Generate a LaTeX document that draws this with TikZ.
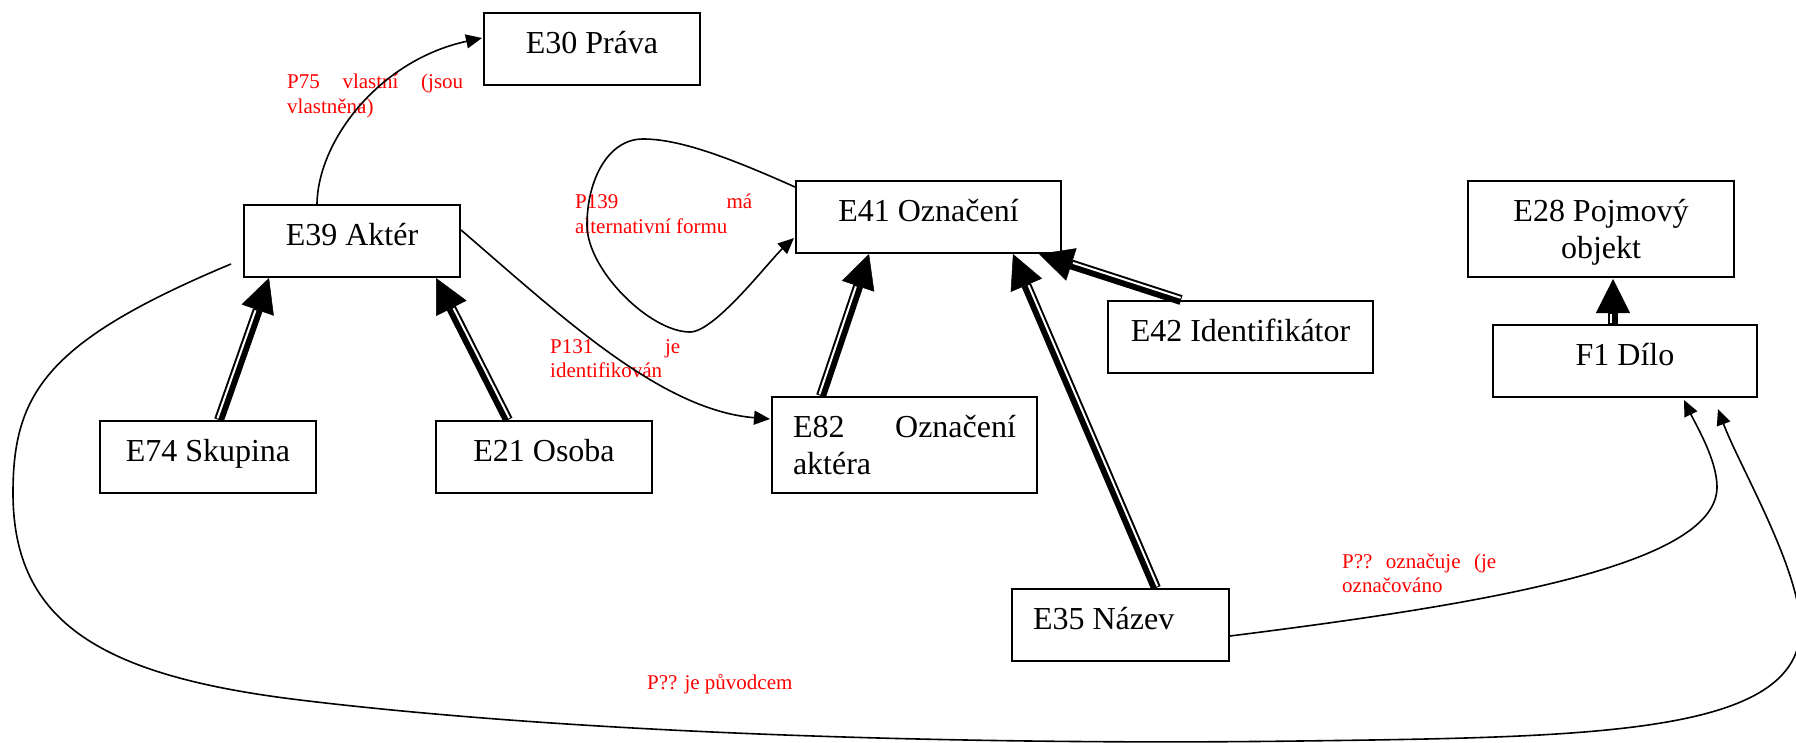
\documentclass[tikz,border=0pt]{standalone}
\usepackage{fontspec}
\setmainfont{Liberation Serif}
\usetikzlibrary{arrows.meta,calc}

% entity text: box width, box height, text (first baseline 40pt below the top)
\newcommand\centredtext[3]{\parbox[c][#2][t]{#1}{\centering\leavevmode\rule{0pt}{40.5pt}#3}}
\newcommand\lefttext[3]{\parbox[c][#2][t]{#1}{\leftskip=21pt\leavevmode\rule{0pt}{40pt}#3}}
% is-a link drawn as a thick/thin compound line: start, tip, side of the thin line
\newcommand\inheritance[4]{%
  \draw[isa] (#1) -- (#2);
  \draw[isagap] ($(#1)!2pt!#3:(#2)$) -- ($(#2)!2pt!#4:(#1)$);}

\tikzset{
  entity/.style={draw, line width=2pt, inner sep=0pt, anchor=north west,
    font=\fontsize{32}{37}\selectfont},
  rel/.style={text=red, inner sep=0pt, anchor=base west,
    font=\fontsize{21}{24.5}\selectfont},
  link/.style={line width=1.6pt, -{Triangle[length=16pt,width=14pt]}},
  isa/.style={line width=10pt, -{Triangle[length=34pt,width=34pt,line width=0.5pt]}},
  isagap/.style={white, line width=2pt, shorten >=35pt, shorten <=1pt},
}

\begin{document}
\begin{tikzpicture}[x=1pt,y=-1pt]
\useasboundingbox (0,0) rectangle (1796,743);

% entities
\node[entity] (E30) at (483,12)   {\centredtext{216pt}{72pt}{E30 Práva}};
\node[entity] (E39) at (243,204)  {\centredtext{216pt}{72pt}{E39 Aktér}};
\node[entity] (E41) at (795,180)  {\centredtext{265pt}{72pt}{E41 Označení}};
\node[entity] (E42) at (1107,300) {\centredtext{265pt}{72pt}{E42 Identifikátor}};
\node[entity] (E28) at (1467,180) {\centredtext{266pt}{96pt}{E28 Pojmový\\objekt}};
\node[entity] (F1)  at (1492,324) {\centredtext{264pt}{72pt}{F1 Dílo}};
\node[entity] (E74) at (99,420)   {\centredtext{216pt}{72pt}{E74 Skupina}};
\node[entity] (E21) at (435,420)  {\centredtext{216pt}{72pt}{E21 Osoba}};
\node[entity] (E82) at (771,396)  {\lefttext{265pt}{96pt}{\hbox to 223pt{E82\hfill Označení}\\aktéra}};
\node[entity] (E35) at (1011,588) {\lefttext{217pt}{72pt}{E35 Název}};

% property labels
\node[rel] (P75) at (287,89)
  {\parbox[t]{176pt}{\hbox to 176pt{P75\hfill vlastní\hfill (jsou}\hbox{vlastněna)}}};
\node[rel] (P139) at (575,209)
  {\parbox[t]{177pt}{\hbox to 177pt{P139\hfill má}\hbox{alternativní formu}}};
\node[rel] (P131) at (550,353)
  {\parbox[t]{130pt}{\hbox to 130pt{P131\hfill je}\hbox{identifikován}}};
\node[rel] (Poz) at (1342,568)
  {\parbox[t]{154pt}{\hbox to 154pt{P??\hfill označuje\hfill (je}\hbox{označováno}}};
\node[rel] (Ppu) at (647,689) {P?? je původcem};

% connector ends
\coordinate (s75)  at ($(E39.north)+(-35,0)$);
\coordinate (t75)  at ($(E30.west)+(-1,-11)$);
\coordinate (s131) at ($(E39.east)+(0,-11)$);
\coordinate (t131) at ($(E82.west)+(-1,-26)$);
\coordinate (s139) at ($(E41.north west)+(0,7)$);
\coordinate (t139) at ($(E41.north west)+(-1,58)$);
\coordinate (soz)  at ($(E35.east)+(0,11)$);
\coordinate (toz)  at ($(F1.south)+(59,2)$);
\coordinate (spu)  at ($(E39.west)+(-12,23)$);
\coordinate (tpu)  at ($(F1.south)+(93,11)$);

\coordinate (i42s) at ($(E42.north)+(-59.5,0)$);
\coordinate (i42t) at ($(E41.south east)+(-23,0)$);
\coordinate (i35s) at ($(E35.north)+(35.5,0)$);
\coordinate (i35t) at ($(E41.south)+(84.5,0)$);
\coordinate (i82s) at ($(E82.north)+(-83.5,0)$);
\coordinate (i82t) at ($(E41.south)+(-59.5,0)$);
\coordinate (i74s) at ($(E74.north)+(11,0)$);
\coordinate (i74t) at ($(E39.south)+(-83,0)$);
\coordinate (i21s) at ($(E21.north)+(-36,0)$);
\coordinate (i21t) at ($(E39.south)+(84,0)$);
\coordinate (iF1s) at ($(F1.north)+(-12,0)$);
\coordinate (iF1t) at ($(E28.south)+(12,1)$);

% is-a links
\inheritance{i42s}{i42t}{-90}{90}
\inheritance{i35s}{i35t}{-90}{90}
\inheritance{i82s}{i82t}{90}{-90}
\inheritance{i74s}{i74t}{90}{-90}
\inheritance{i21s}{i21t}{-90}{90}
\inheritance{iF1s}{iF1t}{90}{-90}

% properties
\draw[link] (s75) .. controls (318,140) and (380,60) .. (t75);
\draw[link] (s131) .. controls (560,315) and (660,410) .. (t131);
\draw[link] (s139) .. controls (730,158) and (680,139) .. (643,139)
  .. controls (608,139) and (587,180) .. (587,225)
  .. controls (587,270) and (650,332) .. (690,332)
  .. controls (715,332) and (769,261) .. (t139);
\draw[link] (soz) .. controls (1476,605) and (1717,567) .. (1717,487)
  .. controls (1717,460) and (1696,425) .. (toz);
\draw[link] (spu) .. controls (47,341) and (13,393) .. (13,493)
  .. controls (13,623) and (102,676) .. (300,700)
  .. controls (597,736) and (1000,745) .. (1300,741)
  .. controls (1600,737) and (1810,735) .. (1800,620)
  .. controls (1795,560) and (1738,463) .. (tpu);
\end{tikzpicture}
\end{document}
